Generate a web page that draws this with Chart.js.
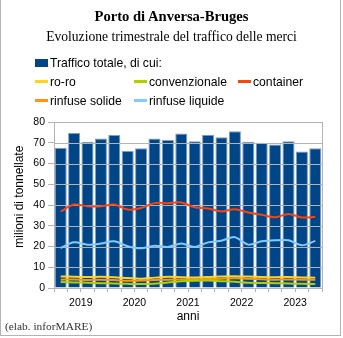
<!DOCTYPE html>
<html lang="it">
<head>
<meta charset="utf-8">
<title>Porto di Anversa-Bruges</title>
<script src="https://cdn.jsdelivr.net/npm/chart.js@4"></script>
<style>
    html, body { margin: 0; padding: 0; background: #fff; }
    #wrap { position: relative; width: 343px; height: 338px; overflow: hidden; }
    #frame { position: absolute; left: 0; top: 0; width: 339px; height: 335px;
             border-left: 1px solid #b3b3b3; border-right: 1px solid #b3b3b3; border-bottom: 1px solid #b3b3b3; }
    #chart { position: absolute; left: 0; top: 0; }
    .serif { font-family: "Liberation Serif", "Times New Roman", serif; color: #000; }
    #title { position: absolute; left: 0; width: 343px; top: 8px; text-align: center; font-size: 14.6px; font-weight: bold; }
    #subtitle { position: absolute; left: 0; width: 343px; top: 29px; text-align: center; font-size: 13.6px; }
    #legend { position: absolute; left: 35px; top: 54px; font-family: "Liberation Sans", Arial, sans-serif; font-size: 12.2px; }
    .item { position: absolute; white-space: nowrap; height: 19px; line-height: 19px; }
    .mark { display: inline-block; width: 13px; vertical-align: middle; margin-right: 2px; position: relative; top: -1px; }
    #credit { position: absolute; left: 5px; top: 320px; font-size: 11.4px; color: #333; }
</style>
</head>
<body>
<div id="wrap">
    <div id="frame"></div>
    <canvas id="chart" width="343" height="338"></canvas>
    <div id="title" class="serif">Porto di Anversa-Bruges</div>
    <div id="subtitle" class="serif">Evoluzione trimestrale del traffico delle merci</div>
    <div id="legend"></div>
    <div id="credit" class="serif">(elab. inforMARE)</div>
</div>
<script>
// trimestri 2019-2023
const quarters = [
    '2019 T1', '2019 T2', '2019 T3', '2019 T4',
    '2020 T1', '2020 T2', '2020 T3', '2020 T4',
    '2021 T1', '2021 T2', '2021 T3', '2021 T4',
    '2022 T1', '2022 T2', '2022 T3', '2022 T4',
    '2023 T1', '2023 T2', '2023 T3', '2023 T4'
];
const yTicks = [0, 10, 20, 30, 40, 50, 60, 70, 80];

// milioni di tonnellate
const totale = [67.6, 74.7, 70.5, 72.1, 73.7, 66.0, 67.3, 72.0, 71.3, 74.5, 70.7, 73.9, 72.6, 75.5, 70.5, 70.0, 69.1, 70.7, 65.8, 67.3];
const roro = [5.6, 5.4, 5.3, 5.4, 5.2, 4.8, 4.5, 5.0, 5.4, 5.2, 5.1, 5.3, 5.6, 5.7, 5.5, 5.3, 5.2, 5.3, 5.1, 5.0];
const convenzionale = [2.9, 2.7, 2.5, 2.3, 2.2, 2.0, 1.9, 2.1, 2.6, 3.2, 3.5, 3.6, 3.3, 3.0, 2.5, 2.4, 2.3, 2.2, 2.0, 1.9];
const container = [36.9, 40.2, 39.4, 39.4, 40.2, 37.8, 38.6, 40.9, 40.9, 41.2, 38.9, 38.3, 36.9, 38.0, 36.4, 35.3, 34.1, 35.7, 34.0, 34.3];
const rinfuseSolide = [4.0, 4.1, 3.9, 4.0, 3.8, 3.5, 3.6, 3.9, 4.0, 4.1, 4.2, 4.3, 4.5, 4.7, 4.4, 4.2, 4.0, 4.1, 4.0, 4.0];
const rinfuseLiquide = [19.3, 22.0, 20.9, 21.4, 22.5, 20.1, 19.1, 20.4, 19.8, 21.4, 19.8, 22.0, 22.8, 24.5, 20.9, 22.5, 23.0, 23.0, 20.6, 22.7];

const GRID = '#b3b3b3';
const FONT = '"Liberation Sans", Arial, sans-serif';

function lineSet(label, data, color) {
    return { type: 'line', label, data, borderColor: color, backgroundColor: color,
             borderWidth: 2, pointRadius: 0, tension: 0.3, order: 1 };
}

const datasets = [
    { type: 'bar', label: 'Traffico totale, di cui:', data: totale, backgroundColor: '#004586',
      borderColor: '#7f9dc2', borderWidth: 1, barPercentage: 1, categoryPercentage: 0.9, order: 10 },
    lineSet('ro-ro', roro, '#ffd320'),
    lineSet('convenzionale', convenzionale, '#aecf00'),
    lineSet('container', container, '#ff420e'),
    lineSet('rinfuse solide', rinfuseSolide, '#ff950e'),
    lineSet('rinfuse liquide', rinfuseLiquide, '#83caff')
];

// griglia orizzontale sopra le barre ma sotto le linee, e cornice dell'area
const gridPlugin = {
    id: 'gridOverBars',
    afterDatasetDraw(chart, args) {
        if (args.index !== 0) return;
        const { ctx, chartArea, scales } = chart;
        ctx.save();
        ctx.strokeStyle = GRID;
        ctx.lineWidth = 1;
        yTicks.forEach(v => {
            const y = Math.round(scales.y.getPixelForValue(v)) + 0.5;
            ctx.beginPath();
            ctx.moveTo(chartArea.left, y);
            ctx.lineTo(chartArea.right, y);
            ctx.stroke();
        });
        ctx.restore();
    },
    afterDraw(chart) {
        const { ctx, chartArea } = chart;
        ctx.save();
        ctx.strokeStyle = GRID;
        ctx.lineWidth = 1;
        ctx.strokeRect(Math.round(chartArea.left) + 0.5, Math.round(chartArea.top) + 0.5,
                       Math.round(chartArea.right - chartArea.left), Math.round(chartArea.bottom - chartArea.top));
        ctx.restore();
    }
};

document.addEventListener('DOMContentLoaded', () => {
    const ctx = document.getElementById('chart').getContext('2d');
    new Chart(ctx, {
        data: { labels: quarters, datasets },
        options: {
            responsive: false,
            animation: false,
            layout: { padding: { top: 122, right: 21, bottom: 14, left: 0 } },
            plugins: { legend: { display: false }, tooltip: { enabled: false } },
            scales: {
                x: {
                    offset: true,
                    afterFit: s => { s.height = 36; },
                    grid: { offset: true, drawOnChartArea: false, drawTicks: true, tickLength: 4, color: GRID },
                    border: { color: GRID },
                    ticks: {
                        autoSkip: false, maxRotation: 0, minRotation: 0, padding: 5,
                        labelOffset: 6.7, color: '#000', font: { family: FONT, size: 10.5 },
                        callback: function (value, index) {
                            return index % 4 === 1 ? this.getLabelForValue(value).slice(0, 4) : '';
                        }
                    },
                    title: { display: true, text: 'anni', color: '#000', font: { family: FONT, size: 12 }, padding: 0 }
                },
                y: {
                    min: 0, max: 80,
                    afterFit: s => { s.width = 54; },
                    afterBuildTicks: s => { s.ticks = yTicks.map(v => ({ value: v })); },
                    grid: { drawOnChartArea: false, drawTicks: true, tickLength: 6, color: GRID },
                    border: { color: GRID },
                    ticks: { padding: 3, color: '#000', font: { family: FONT, size: 10.5 } },
                    // spazi iniziali: il titolo nel riferimento sta un po' più in alto del centro
                    title: { display: true, text: '\u00a0\u00a0\u00a0\u00a0\u00a0milioni di tonnellate', color: '#000',
                             font: { family: FONT, size: 12 }, padding: { top: 12, bottom: 0 } }
                }
            }
        },
        plugins: [gridPlugin]
    });

    // legenda HTML: prima voce da sola, poi tre colonne
    const legend = document.getElementById('legend');
    const cols = [0, 99, 203];
    datasets.forEach((d, i) => {
        const item = document.createElement('div');
        item.className = 'item';
        const pos = i === 0 ? { row: 0, col: 0 } : { row: 1 + Math.floor((i - 1) / 3), col: (i - 1) % 3 };
        item.style.left = cols[pos.col] + 'px';
        item.style.top = (pos.row * 19) + 'px';
        const mark = document.createElement('span');
        mark.className = 'mark';
        mark.style.background = d.type === 'bar' ? d.backgroundColor : d.borderColor;
        mark.style.height = d.type === 'bar' ? '8px' : '3px';
        item.appendChild(mark);
        item.appendChild(document.createTextNode(d.label));
        legend.appendChild(item);
    });
});
</script>
</body>
</html>
